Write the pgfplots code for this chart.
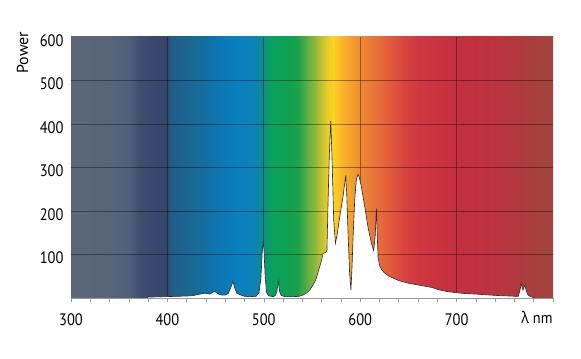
\documentclass[border=0pt]{standalone}
\usepackage{fontspec}
\setmainfont{PT Sans}
\newfontfamily\grk{Open Sans}
\usepackage{pgfplots}
\pgfplotsset{compat=1.18}
\usepackage{pgfplotstable}

\definecolor{c300}{HTML}{5B6679}
\definecolor{c340}{HTML}{586579}
\definecolor{c360}{HTML}{50607A}
\definecolor{c372}{HTML}{3F4D6E}
\definecolor{c385}{HTML}{3A4870}
\definecolor{c399}{HTML}{354569}
\definecolor{c403}{HTML}{225D86}
\definecolor{c430}{HTML}{196A98}
\definecolor{c455}{HTML}{0B77B4}
\definecolor{c475}{HTML}{0A80C0}
\definecolor{c492}{HTML}{0C84B2}
\definecolor{c500}{HTML}{0D9184}
\definecolor{c506}{HTML}{08A062}
\definecolor{c520}{HTML}{0DA056}
\definecolor{c535}{HTML}{1BA24A}
\definecolor{c545}{HTML}{5EAE45}
\definecolor{c555}{HTML}{A0BA3A}
\definecolor{c565}{HTML}{E8CC28}
\definecolor{c572}{HTML}{FDD220}
\definecolor{c580}{HTML}{F9B82A}
\definecolor{c590}{HTML}{F4A02E}
\definecolor{c600}{HTML}{EE8A33}
\definecolor{c615}{HTML}{E9713A}
\definecolor{c630}{HTML}{E25C3C}
\definecolor{c645}{HTML}{D9443F}
\definecolor{c660}{HTML}{CF3740}
\definecolor{c700}{HTML}{C4303F}
\definecolor{c740}{HTML}{BC3340}
\definecolor{c765}{HTML}{B0393E}
\definecolor{c785}{HTML}{A6413C}
\definecolor{c800}{HTML}{A2443D}

\newcommand{\band}[4]{%
  \addplot[draw=none, left color=#3, right color=#4, on layer=axis background, forget plot]
    coordinates {(#1,600) (#2,600)} \closedcycle;}

\pgfplotstableread{
x y
378 0
380 2
395 3
413 4
425 5
430 7
436 10
439 11
444 9
447 13
449 15
451 12
453 9
456 7
460 7
463 10
466 25
468 38
470 22
472 11
475 8
477 6
480 4
485 3
492 4
495 12
497 45
498.5 110
499.3 131
500.2 110
501.5 45
503 12
505 5
510 3
512 6
513.5 14
515.2 38
516.5 14
518 6
522 3
530 3
537 4
541 7
544 11
548 19
551 30
554 42
556 57
558 72
560 87
561.5 103
564 104
565.5 110
566.7 225
568 330
569.4 407
570.5 340
571.5 264
572.5 180
574.3 126
576 145
578.8 187
582.2 233
584 265
585 282
586 240
587.4 149
589 57
590.4 18
591.5 70
592.5 133
594.3 225
596 272
597.7 284
599 278
601.2 256
604.7 210
608 164
611.6 126
614 109
615.5 140
616.8 206
617.6 150
618.5 95
620 76
622 66
625 58
630 50
635 45
640 40
650 34
660 30
670 26
675 24
680 20
685 17
690 15
700 12
710 10
720 9
740 6
760 4
764 4
766 20
767 34
768.9 18
770 25
771 30
772 18
774 7
777 3
780 1
782 0
}\spd

\begin{document}
\begin{tikzpicture}
\begin{axis}[
  set layers,
  width=482bp, height=261bp, scale only axis,
  xmin=300, xmax=800, ymin=0, ymax=600,
  axis lines*=left,
  x axis line style={gray!80, -, line width=0.6pt},
  y axis line style={draw=none},
  xtick={400,500,600,700},
  extra x ticks={300,800},
  extra x tick labels={300,{}},
  extra x tick style={grid=none},
  minor xtick={320,340,...,780},
  ytick={100,200,...,500},
  extra y ticks={600},
  extra y tick style={grid=none},
  tick align=outside,
  major tick length=4bp, minor tick length=4bp,
  every tick/.style={gray!80, line width=0.6pt},
  ytick style={draw=none},
  grid=major,
  major grid style={black, opacity=0.38, line width=0.8pt},
  tick label style={font=\fontsize{14.5}{14.5}\selectfont, black, yscale=1.15},
  xticklabel style={yshift=-7bp},
  yticklabel style={yshift=-3bp},
  /pgf/number format/assume math mode=true,
  xlabel={{\grk λ} nm},
  xlabel style={at={(axis description cs:1,0)}, anchor=north east, font=\fontsize{14.5}{14.5}\selectfont, yscale=1.1, xshift=3bp, yshift=-9bp},
  ylabel={Power},
  ylabel style={at={(axis description cs:-0.1006,0.9406)}, anchor=center, font=\fontsize{16}{16}\selectfont},
]
\band{300}{340.6}{c300}{c340}
\band{340}{360.6}{c340}{c360}
\band{360}{372.6}{c360}{c372}
\band{372}{385.6}{c372}{c385}
\band{385}{399.6}{c385}{c399}
\band{399}{403.6}{c399}{c403}
\band{403}{430.6}{c403}{c430}
\band{430}{455.6}{c430}{c455}
\band{455}{475.6}{c455}{c475}
\band{475}{492.6}{c475}{c492}
\band{492}{500.6}{c492}{c500}
\band{500}{506.6}{c500}{c506}
\band{506}{520.6}{c506}{c520}
\band{520}{535.6}{c520}{c535}
\band{535}{545.6}{c535}{c545}
\band{545}{555.6}{c545}{c555}
\band{555}{565.6}{c555}{c565}
\band{565}{572.6}{c565}{c572}
\band{572}{580.6}{c572}{c580}
\band{580}{590.6}{c580}{c590}
\band{590}{600.6}{c590}{c600}
\band{600}{615.6}{c600}{c615}
\band{615}{630.6}{c615}{c630}
\band{630}{645.6}{c630}{c645}
\band{645}{660.6}{c645}{c660}
\band{660}{700.6}{c660}{c700}
\band{700}{740.6}{c700}{c740}
\band{740}{765.6}{c740}{c765}
\band{765}{785.6}{c765}{c785}
\band{785}{800}{c785}{c800}
\addplot[fill=white, draw=none, forget plot] table {\spd} \closedcycle;
\addplot[draw=black!85, line width=0.6pt] table {\spd};
\end{axis}
\pgfresetboundingbox
\path[use as bounding box] (-71bp,-61bp) rectangle (510bp,298bp);
\end{tikzpicture}
\end{document}
